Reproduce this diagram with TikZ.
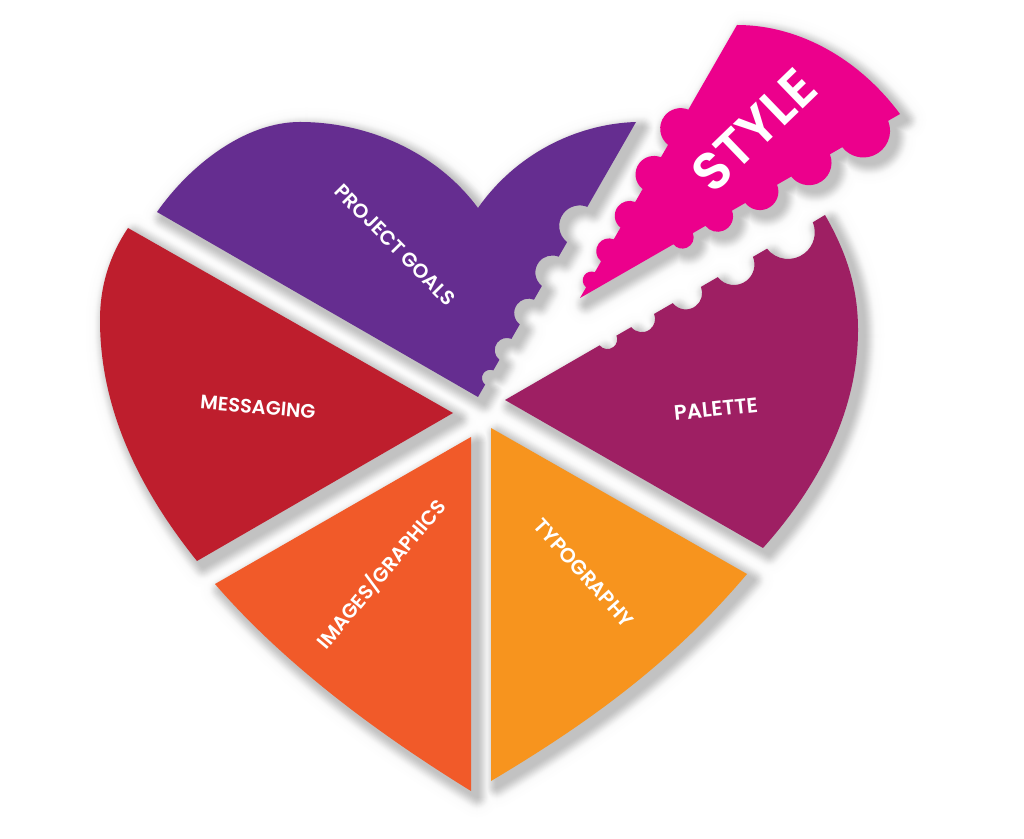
\documentclass[tikz,border=0pt]{standalone}
\usepackage{fontspec}
\setmainfont{Poppins SemiBold}
\usetikzlibrary{calc}
\definecolor{cpurple}{HTML}{652D90}
\definecolor{cred}{HTML}{BE1E2D}
\definecolor{corange}{HTML}{F15A29}
\definecolor{cyellow}{HTML}{F7941E}
\definecolor{cplum}{HTML}{9E1F63}
\definecolor{cmagenta}{HTML}{EC008C}
\tikzset{lab/.style={text=white,font=\fontsize{#1}{#1}\selectfont,inner sep=0pt}}
% forward: from point #1 along angle #2, circle at distance #3, radius #4, half sweep #5, side #6
\newcommand\fwdbump[6]{-- ($(#1)+(#2:{#3-#4*sin(#5)})$) arc[start angle={#2+#6*(90+#5)},delta angle={-#6*2*#5},radius=#4pt]}
\newcommand\revbump[6]{-- ($(#1)+(#2:{#3+#4*sin(#5)})$) arc[start angle={#2+#6*(90-#5)},delta angle={#6*2*#5},radius=#4pt]}
\newcommand\purplepath{(478,397)
 \fwdbump{478,397}{-60.1}{22.5}{8.3}{82}{-1}
 \fwdbump{478,397}{-60.1}{55}{12.2}{82}{-1}
 \fwdbump{478,397}{-60.1}{98}{14.4}{82}{-1}
 \fwdbump{478,397}{-60.1}{145}{17}{82}{-1}
 \fwdbump{478,397}{-60.1}{199}{20.5}{82}{-1}
 -- (636,122) .. controls (575,124) and (515,155) .. (478,208)
 .. controls (435,150) and (365,122) .. (300,122)
 .. controls (245,122) and (190,165) .. (157,212) -- cycle}
\newcommand\stylepath{(580,298)
 \fwdbump{580,298}{-60.1}{21}{8.8}{82}{-1}
 \fwdbump{580,298}{-60.1}{55}{12.8}{82}{-1}
 \fwdbump{580,298}{-60.1}{96}{14.9}{82}{-1}
 \fwdbump{580,298}{-60.1}{144}{18.5}{82}{-1}
 \fwdbump{580,298}{-60.1}{197}{20.5}{82}{-1}
 -- (737,25) .. controls (800,25) and (860,60) .. (900,114)
 \revbump{580,298}{-29.9}{329}{26.7}{82}{1}
 \revbump{580,298}{-29.9}{266}{22.5}{82}{1}
 \revbump{580,298}{-29.9}{209}{18.5}{82}{1}
 \revbump{580,298}{-29.9}{160}{15.4}{82}{1}
 \revbump{580,298}{-29.9}{119}{11.3}{82}{1}
 -- cycle}
\newcommand\palettepath{(505,400)
 \fwdbump{505,400}{-30}{119}{9.8}{82}{1}
 \fwdbump{505,400}{-30}{159}{13.3}{82}{1}
 \fwdbump{505,400}{-30}{210}{16.4}{82}{1}
 \fwdbump{505,400}{-30}{266}{20.5}{82}{1}
 \fwdbump{505,400}{-30}{329}{26.7}{82}{1}
 -- (825,215) .. controls (848,255) and (858,290) .. (858,330)
 .. controls (858,415) and (815,490) .. (763,548) -- cycle}
\newcommand\typopath{(491,428) -- (747,574) .. controls (670,665) and (585,725) .. (491,781) -- cycle}
\newcommand\imagespath{(471,437) -- (471,791) .. controls (380,735) and (285,665) .. (215,584) -- cycle}
\newcommand\messagepath{(453,413) -- (197,561) .. controls (140,490) and (100,410) .. (100,320)
 .. controls (100,285) and (110,255) .. (128,228) -- cycle}
\begin{document}
\begin{tikzpicture}[x=1pt,y=1pt]
\useasboundingbox (0,0) rectangle (1024,838);
\fill[white] (0,0) rectangle (1024,838);
\begin{scope}[yshift=838pt,yscale=-1]
\foreach \d in {21,20,...,0}{
 \pgfmathsetmacro\ss{max(0,1-\d/14)}
 \pgfmathsetmacro\lev{21*\ss*\ss*(3-2*\ss)+3*(1-\d/22)}
 \pgfmathsetmacro\wid{2*\d}
 \tikzset{sh/.style={fill=black!\lev,draw=black!\lev,line width=\wid pt,line join=round,xshift=6pt,yshift=6pt}}
 \path[sh] \purplepath;
 \path[sh] \stylepath;
 \path[sh] \palettepath;
 \path[sh] \typopath;
 \path[sh] \imagespath;
 \path[sh] \messagepath;
}
\fill[cpurple] \purplepath;
\fill[cmagenta] \stylepath;
\fill[cplum] \palettepath;
\fill[cyellow] \typopath;
\fill[corange] \imagespath;
\fill[cred] \messagepath;
\node[lab=20,rotate=-45.4] (goals) at (395,245) {PROJECT GOALS};
\node[lab=19.5,rotate=-5] (messaging) at (258,407) {MESSAGING};
\node[lab=21,rotate=6] (palette) at (716,409) {PALETTE};
\node[lab=20.5,rotate=-48] (typography) at (584,573) {TYPOGRAPHY};
\node[lab=20,rotate=50] (images) at (381,574) {IMAGES/GRAPHICS};
\node[lab=53,rotate=44] (style) at (754,130) {STYLE};
\end{scope}
\end{tikzpicture}
\end{document}
